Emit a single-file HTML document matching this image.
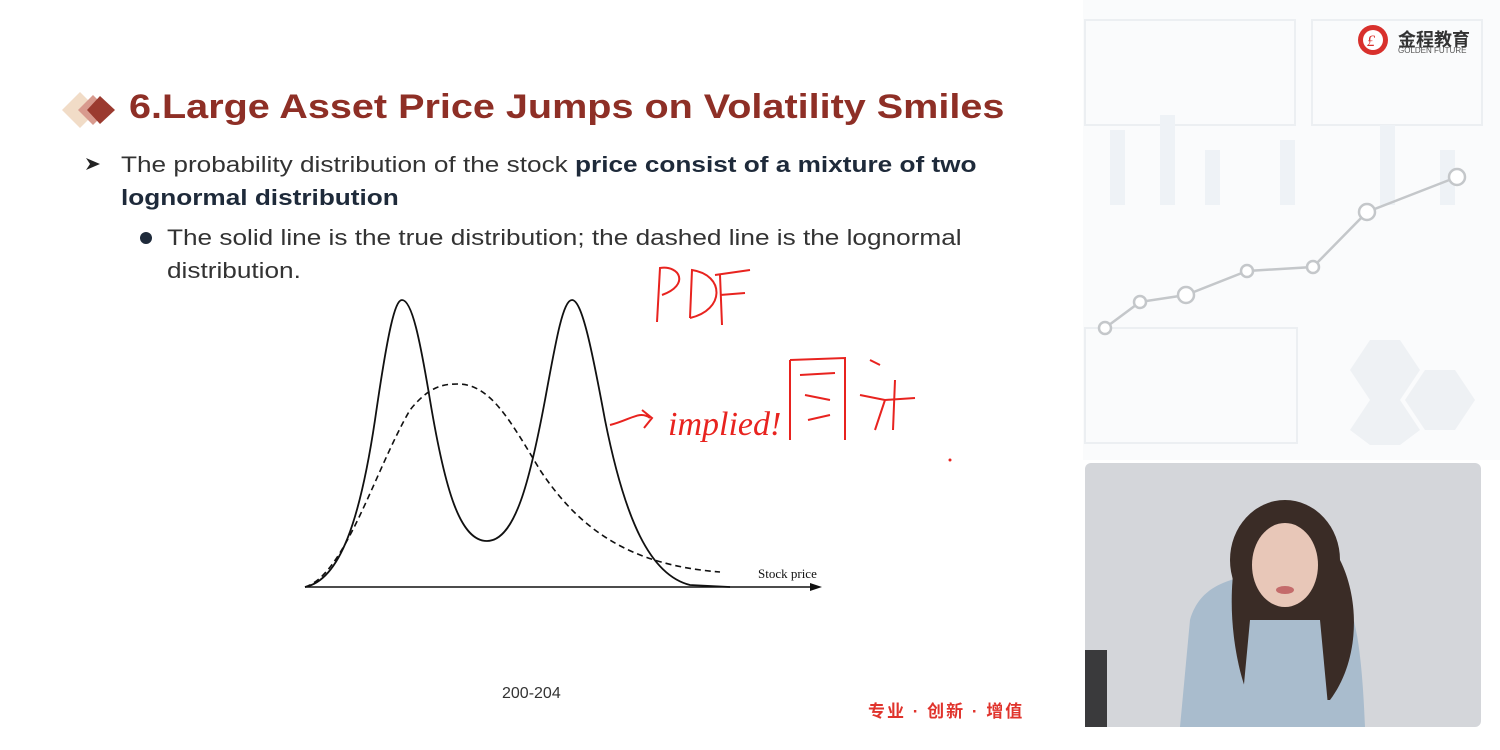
<!DOCTYPE html>
<html><head><meta charset="utf-8"><style>
body{margin:0;width:1500px;height:750px;background:#fff;position:relative;overflow:hidden;font-family:"Liberation Sans","Noto Sans CJK SC",sans-serif}
.t{position:absolute;white-space:nowrap;transform-origin:0 0}
</style></head><body>
<svg width="1500" height="750" style="position:absolute;left:0;top:0">
 <rect x="1083" y="0" width="417" height="460" fill="#fafbfc"/>
 <g fill="none" stroke="#eceff2" stroke-width="2">
  <rect x="1085" y="20" width="210" height="105"/><rect x="1312" y="20" width="170" height="105"/>
  <rect x="1085" y="328" width="212" height="115"/>
 </g>
 <g fill="#eef2f6">
  <rect x="1110" y="130" width="15" height="75"/><rect x="1160" y="115" width="15" height="90"/><rect x="1205" y="150" width="15" height="55"/><rect x="1280" y="140" width="15" height="65"/><rect x="1380" y="125" width="15" height="80"/><rect x="1440" y="150" width="15" height="55"/>
 </g>
 <polyline points="1105,328 1140,302 1186,295 1247,271 1313,267 1367,212 1457,177" fill="none" stroke="#c4c7ca" stroke-width="2.5"/>
 <g fill="#fff" stroke="#c4c7ca" stroke-width="2.5">
  <circle cx="1105" cy="328" r="6"/><circle cx="1140" cy="302" r="6"/><circle cx="1186" cy="295" r="8"/><circle cx="1247" cy="271" r="6"/><circle cx="1313" cy="267" r="6"/><circle cx="1367" cy="212" r="8"/><circle cx="1457" cy="177" r="8"/>
 </g>
 <g fill="#eef1f4"><polygon points="1350,370 1370,340 1400,340 1420,370 1400,400 1370,400"/><polygon points="1405,400 1425,370 1455,370 1475,400 1455,430 1425,430"/><polygon points="1350,430 1370,400 1400,400 1420,430 1400,445 1370,445"/></g>
 <circle cx="1373" cy="40" r="15" fill="#d8302c"/><circle cx="1373" cy="40" r="10" fill="#fff"/>
 <text x="1367" y="46" font-size="16" fill="#d8302c" font-style="italic" font-family="Liberation Serif">£</text>
 <polygon points="62,110 80,92 98,110 80,128" fill="#f1dcc7"/>
 <polygon points="78,110 93,95 108,110 93,125" fill="#d89a8e"/>
 <polygon points="87,110 100,96 115,110 100,124" fill="#9b3a2f"/>
 <polygon points="86,158 100,164 86,170 90,164" fill="#222"/>
 <circle cx="146" cy="238" r="6" fill="#1e2a3a"/>
 <line x1="305" y1="587" x2="815" y2="587" stroke="#111" stroke-width="1.5"/>
 <polygon points="822,587 810,583 810,591" fill="#111"/>
 <path d="M305,587 C340,580 360,520 375,420 C388,330 395,300 402,300 C412,300 420,340 430,400 C445,490 460,541 487,541 C515,541 530,480 545,400 C556,340 563,300 572,300 C582,300 592,350 605,420 C625,520 650,575 690,585 L730,587" fill="none" stroke="#111" stroke-width="1.8"/>
 <path d="M305,587 C345,575 375,470 410,410 C430,385 445,384 458,384 C490,384 510,420 540,470 C580,530 630,565 720,572" fill="none" stroke="#111" stroke-width="1.6" stroke-dasharray="6,4"/>
 <text x="758" y="578" font-size="13" font-family="Liberation Serif" fill="#111">Stock price</text>
 <g fill="none" stroke="#e8231f" stroke-width="2">
  <path d="M657,322 L660,268 C680,265 690,285 662,295"/>
  <path d="M690,318 L692,270 C725,275 725,310 690,318"/>
  <path d="M715,275 L750,270 M720,275 L722,325 M720,295 L745,293"/>
  <path d="M610,425 C630,420 640,410 650,418 M642,410 L652,418 L644,428"/>
  <path d="M790,360 L790,440 M790,360 L845,358 L845,440 M800,375 L835,373 M805,395 L830,400 M808,420 L830,415"/>
  <path d="M870,360 L880,365 M860,395 L885,400 L875,430 M895,380 L893,430 M885,400 L915,398"/>
 </g>
 <text x="668" y="435" font-size="34" fill="#e8231f" font-family="Liberation Serif" font-style="italic">implied!</text>
 <circle cx="950" cy="460" r="1.5" fill="#e8231f"/>
 <rect x="1085" y="463" width="396" height="264" rx="6" fill="#d4d6da"/>
 <rect x="1085" y="650" width="22" height="77" fill="#3a3a3c"/>
 <path d="M1180,727 L1190,620 C1200,585 1230,580 1250,575 L1320,575 C1345,585 1360,600 1365,727 Z" fill="#a9bccd"/>
 <ellipse cx="1285" cy="560" rx="55" ry="60" fill="#3a2c26"/>
 <path d="M1235,560 C1225,620 1240,680 1250,700 L1330,700 C1360,660 1360,600 1340,560 Z" fill="#3a2c26"/>
 <ellipse cx="1285" cy="565" rx="33" ry="42" fill="#e8c7b8"/>
 <ellipse cx="1285" cy="590" rx="9" ry="4" fill="#c46b6b"/>
 <path d="M1250,620 L1320,620 L1330,727 L1240,727 Z" fill="#a9bccd"/>
</svg>
<div class="t" style="left:129px;top:88px;font-size:34px;font-weight:bold;color:#8e2f26;transform:scaleX(1.164)">6.Large Asset Price Jumps on Volatility Smiles</div>
<div class="t" style="left:121px;top:148px;font-size:22px;color:#333;line-height:33px;transform:scaleX(1.19)">The probability distribution of the stock <b style="color:#1e2a3a">price consist of a mixture of two</b><br><b style="color:#1e2a3a">lognormal distribution</b></div>
<div class="t" style="left:167px;top:221px;font-size:22px;color:#333;line-height:33px;transform:scaleX(1.19)">The solid line is the true distribution; the dashed line is the lognormal<br>distribution.</div>
<div class="t" style="left:1398px;top:26px;font-size:18px;font-weight:bold;color:#333">金程教育</div>
<div class="t" style="left:1398px;top:46px;font-size:8px;color:#555">GOLDEN FUTURE</div>
<div class="t" style="left:502px;top:685px;font-size:16px;color:#333">200-204</div>
<div class="t" style="left:868px;top:697px;font-size:17px;color:#e0332c;font-weight:bold;letter-spacing:2px">专业 · 创新 · 增值</div>
</body></html>
